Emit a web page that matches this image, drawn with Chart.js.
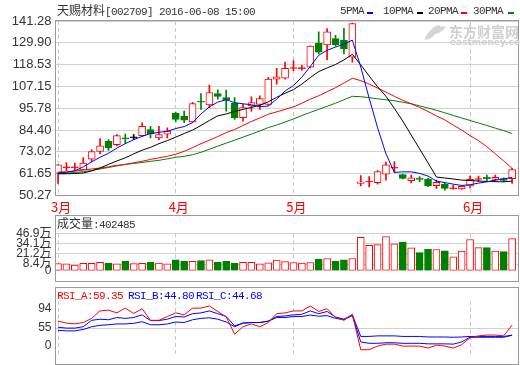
<!DOCTYPE html>
<html>
<head>
<meta charset="utf-8">
<script src="https://cdn.jsdelivr.net/npm/chart.js@4.4.1/dist/chart.umd.min.js"></script>
<style>
  body { margin: 0; background: #fff; }
  #wrap { position: relative; width: 520px; height: 365px; overflow: hidden; font-family: "Noto Sans CJK SC", sans-serif; color: #333; }
  canvas { position: absolute; left: 0; }
  .box { position: absolute; left: 55px; width: 464px; border: 1px solid #999; box-sizing: border-box; }
  .txt { position: absolute; white-space: nowrap; font-size: 12px; line-height: 12px; }
  .mono { font-family: "Liberation Mono", monospace; font-size: 11px; letter-spacing: -0.6px; }
  .dash { position: absolute; width: 6px; height: 2px; }
  .mark { position: absolute; color: #cfcfcf; font-weight: bold; white-space: nowrap; }
  .leaf { position: absolute; background: #d4d4d4; border-radius: 100% 0 100% 0; }
</style>
</head>
<body>
<div id="wrap">
  <canvas id="kline" width="520" height="215" style="top:0"></canvas>
  <canvas id="vol" width="520" height="67" style="top:215px"></canvas>
  <canvas id="rsi" width="520" height="78" style="top:287px"></canvas>

  <div class="box" style="top:20px;height:176px"></div>
  <div class="box" style="top:215px;height:67px"></div>
  <div class="box" style="top:287px;height:78px"></div>

  <div class="txt" style="left:57px;top:4px">天赐材料<span class="mono">[002709] 2016-06-08 15:00</span></div>

  <div class="txt mono" style="left:340px;top:5px">5PMA</div>
  <div class="dash" style="left:367px;top:12px;background:#0000ff"></div>
  <div class="txt mono" style="left:383px;top:5px">10PMA</div>
  <div class="dash" style="left:417px;top:12px;background:#000"></div>
  <div class="txt mono" style="left:428px;top:5px">20PMA</div>
  <div class="dash" style="left:461px;top:12px;background:#ff0000"></div>
  <div class="txt mono" style="left:473px;top:5px">30PMA</div>
  <div class="dash" style="left:508px;top:12px;background:#008000"></div>

  <div class="leaf" style="left:428px;top:23px;width:9px;height:19px;transform:rotate(25deg)"></div>
  <div class="leaf" style="left:436px;top:24px;width:7px;height:12px;transform:rotate(35deg)"></div>
  <div class="mark" style="left:449px;top:21px;font-size:14px">东方财富网</div>
  <div class="mark" style="left:450px;top:37px;font-size:9px;font-family:'DejaVu Sans',sans-serif">eastmoney.com</div>

  <div class="txt" style="left:57px;top:217px">成交量<span class="mono">:402485</span></div>

  <div class="txt mono" style="left:57px;top:290px;color:#ff0000">RSI_A:59.35</div>
  <div class="txt mono" style="left:128px;top:290px;color:#0000ff">RSI_B:44.80</div>
  <div class="txt mono" style="left:196px;top:290px;color:#0000ff">RSI_C:44.68</div>
</div>
<script>
// axis labels
const months = ['3月', '4月', '5月', '6月'];
const monthStart = [0, 14, 28, 49];
const priceTicks = [50.27, 61.65, 73.02, 84.40, 95.78, 107.15, 118.53, 129.90, 141.28];
const volTicks = [0, 84000, 212000, 341000, 469000];
const rsiTickText = ['94', '55', '0'];
const rsiTickAt = [83, 55, 29];

// daily candles
const open = [61.86, 64.7, 64.7, 63.6, 69.24, 73.24, 78.5, 76.77, 80.1, 80.29,
  81.5, 84.66, 80.29, 82.3, 93.09, 91.67, 88.6, 99.1, 97.46, 103.46,
  101.36, 98.36, 90.83, 96.93, 97.83, 97.83, 111.0, 111.52, 116.5, 116.4,
  117.16, 129.79, 128.8, 132.06, 131.16, 122.42, 56.6, 57.3, 57.0, 61.34,
  64.5, 61.2, 57.97, 58.85, 58.86, 55.4, 56.08, 53.8, 53.75, 55.3,
  58.6, 59.91, 58.7, 59.1, 59.0];
const high = [66.4, 67.45, 67.13, 70.08, 74.1, 79.93, 79.4, 82.03, 82.3, 82.03,
  88.19, 86.4, 86.4, 85.55, 93.78, 94.3, 98.9, 103.46, 107.9, 105.36,
  105.2, 101.36, 97.83, 101.67, 102.2, 111.9, 116.63, 119.79, 120.63, 118.2,
  128.3, 135.59, 137.33, 133.8, 137.5, 140.2, 60.7, 60.2, 63.3, 67.7,
  67.97, 61.5, 60.97, 60.2, 59.23, 58.33, 56.6, 55.7, 55.33, 60.44,
  60.44, 60.97, 60.97, 59.55, 64.5];
const low = [56.6, 63.23, 63.23, 63.6, 67.97, 72.0, 73.76, 76.24, 77.29, 79.4,
  81.14, 80.29, 79.4, 80.29, 88.72, 88.19, 88.4, 95.2, 96.09, 100.46,
  94.3, 89.9, 89.04, 94.3, 95.2, 97.3, 108.36, 111.0, 115.36, 115.7,
  116.8, 124.16, 121.16, 128.21, 124.16, 119.79, 55.33, 54.8, 56.23, 58.33,
  62.3, 58.86, 56.8, 57.44, 54.9, 53.85, 53.07, 53.6, 53.4, 54.2,
  57.44, 57.8, 57.8, 57.44, 56.6];
const close = [66.23, 64.9, 64.9, 67.13, 73.24, 76.24, 75.03, 81.5, 79.8, 80.29,
  86.4, 82.56, 82.03, 83.9, 89.9, 89.56, 98.2, 98.9, 103.99, 101.88,
  100.2, 90.83, 96.09, 98.72, 100.83, 111.0, 112.21, 116.63, 116.7, 116.7,
  128.21, 125.05, 135.59, 128.9, 126.79, 139.96, 57.44, 57.5, 62.71, 66.23,
  64.8, 59.23, 59.55, 58.7, 55.3, 57.12, 53.96, 53.95, 55.0, 58.7,
  58.75, 58.86, 59.75, 58.07, 63.8];

// volume (lots)
const volume = [89000, 86000, 73000, 93000, 93000, 107000, 96000, 86000, 117000, 89000,
  93000, 107000, 96000, 86000, 137000, 117000, 117000, 127000, 137000, 107000,
  117000, 96000, 107000, 107000, 86000, 100000, 134000, 114000, 104000, 96000,
  104000, 147000, 154000, 117000, 137000, 154000, 418000, 317000, 327000, 428000,
  337000, 360000, 286000, 228000, 269000, 266000, 249000, 175000, 246000, 391000,
  289000, 289000, 246000, 239000, 402485];

// moving averages as drawn
const ma5 = [62.0, 62.4, 63.2, 65.2, 67.8, 70.2, 72.3, 75.0, 77.3, 79.4,
  81.1, 82.6, 83.2, 83.8, 85.2, 86.2, 88.3, 92.8, 96.5, 99.0,
  100.2, 98.7, 98.1, 97.6, 96.6, 96.9, 100.5, 104.8, 107.6, 112.0,
  117.6, 123.4, 126.0, 127.7, 129.2, 131.3, 117.3, 101.0, 85.7, 72.0,
  62.3, 62.6, 62.6, 61.8, 60.4, 57.8, 57.0, 56.2, 55.5, 55.9,
  56.7, 57.4, 58.3, 58.9, 59.7];
const ma10 = [61.6, 61.6, 61.75, 62.0, 63.1, 64.6, 66.5, 68.3, 69.9, 72.0,
  73.9, 75.4, 77.3, 78.9, 80.7, 82.6, 84.4, 86.8, 89.4, 91.8,
  92.8, 94.1, 95.2, 96.2, 97.3, 99.1, 101.5, 103.6, 105.5, 108.4,
  111.8, 114.9, 116.8, 118.6, 121.0, 123.9, 118.4, 112.6, 107.0, 102.0,
  95.7, 89.1, 81.8, 74.6, 67.3, 59.9, 59.4, 58.9, 58.3, 58.1,
  57.8, 57.6, 57.5, 57.4, 57.8];
const ma20 = [62.5, 62.6, 63.0, 63.6, 64.1, 64.6, 65.2, 66.0, 66.5, 67.3,
  68.1, 69.1, 69.9, 70.7, 71.8, 73.3, 75.2, 77.3, 79.1, 81.0,
  83.1, 84.7, 86.8, 88.9, 90.7, 92.6, 93.9, 95.2, 96.5, 98.4,
  100.5, 102.3, 104.4, 106.5, 108.9, 111.4, 110.2, 108.4, 106.3, 104.2,
  102.0, 99.9, 98.1, 96.2, 94.1, 91.8, 89.7, 87.0, 84.4, 81.5,
  78.9, 75.7, 72.0, 68.3, 64.4];
const ma30 = [61.6, 61.9, 62.3, 62.7, 63.3, 64.1, 64.9, 65.7, 66.5, 67.0,
  67.5, 68.1, 68.6, 69.4, 70.2, 70.7, 71.5, 72.8, 74.4, 76.0,
  77.6, 79.1, 80.7, 82.3, 83.9, 85.7, 87.0, 88.6, 90.2, 92.0,
  93.6, 95.2, 96.8, 98.4, 100.2, 102.0, 101.8, 101.3, 100.7, 100.2,
  99.7, 98.9, 98.1, 97.0, 95.9, 94.7, 93.4, 92.0, 90.7, 89.4,
  88.1, 86.8, 85.4, 84.1, 82.6];

// RSI
const rsiA = [65.0, 62.2, 61.0, 63.0, 69.0, 79.7, 80.9, 76.9, 83.7, 76.1,
  82.9, 66.2, 66.2, 71.7, 76.9, 74.1, 83.7, 83.7, 86.9, 78.9,
  71.0, 46.2, 57.0, 61.0, 57.0, 63.0, 75.7, 76.9, 79.7, 79.7,
  86.9, 78.9, 82.9, 70.2, 66.2, 74.9, 23.9, 23.9, 29.1, 31.9,
  31.9, 29.1, 29.1, 29.1, 26.3, 30.3, 29.1, 26.3, 31.1, 41.0,
  43.8, 45.0, 45.0, 43.8, 59.35];
const rsiB = [56.2, 55.0, 55.0, 57.0, 66.2, 67.8, 67.0, 70.2, 69.0, 70.2,
  74.1, 65.8, 65.8, 67.8, 71.7, 71.0, 75.7, 76.9, 79.7, 75.7,
  71.7, 58.2, 62.2, 63.0, 63.0, 65.0, 71.7, 72.5, 74.1, 74.9,
  79.7, 75.7, 78.9, 71.0, 67.8, 74.1, 43.0, 43.0, 43.8, 43.8,
  43.8, 43.0, 43.0, 43.0, 42.2, 42.2, 42.2, 41.8, 42.2, 43.0,
  43.0, 43.0, 43.0, 43.0, 44.80];
const rsiC = [51.8, 51.0, 51.0, 53.0, 57.0, 59.0, 59.8, 61.0, 61.0, 61.8,
  64.2, 59.8, 59.8, 61.0, 63.8, 63.0, 67.0, 69.0, 69.8, 67.8,
  63.8, 57.0, 62.2, 63.0, 63.0, 65.0, 70.2, 70.2, 71.7, 71.7,
  73.7, 72.1, 72.9, 69.0, 67.0, 72.9, 35.1, 33.1, 33.1, 33.9,
  33.9, 33.1, 33.1, 33.1, 32.3, 32.3, 32.3, 31.9, 35.1, 41.8,
  41.8, 41.8, 41.8, 41.8, 44.68];

const UP = '#ff0000', DOWN = '#008000', FLAT = '#000000';
const idx = close.map((_, i) => i);
const tone = idx.map(i => close[i] > open[i] ? UP : close[i] < open[i] ? DOWN : FLAT);
const hollow = idx.map(i => close[i] - open[i] > 0.8 ? '#ffffff' : tone[i]);
const volFill = idx.map(i => close[i] >= open[i] ? '#ffffff' : DOWN);
const volLine = idx.map(i => close[i] >= open[i] ? UP : DOWN);
const pts = arr => idx.map(i => ({ x: i, y: arr[i] }));

const base = {
  responsive: false,
  animation: false,
  events: [],
  plugins: { legend: { display: false }, tooltip: { enabled: false } }
};

function xAxis(withLabels) {
  return {
    type: 'linear', min: -0.3, max: 54.7, offset: false,
    afterBuildTicks: s => { s.ticks = monthStart.map(v => ({ value: v })); },
    afterFit: s => { s.height = withLabels ? 19.5 : 0; },
    ticks: {
      display: withLabels, autoSkip: false, maxRotation: 0, padding: 4, labelOffset: 3,
      color: UP, font: { family: 'Noto Sans CJK SC', size: 13 },
      callback: (v, i) => months[i]
    },
    grid: { color: '#c8c8c8', drawTicks: false, offset: false },
    border: { display: false, dash: [4, 3] }
  };
}

function yAxis(min, max, build, label, gridColor, size) {
  return {
    min, max,
    afterBuildTicks: build,
    afterFit: s => { s.width = 55.5; },
    ticks: { color: '#333', padding: 4, autoSkip: false, font: { family: 'Liberation Sans, Noto Sans CJK SC', size }, callback: label },
    grid: { color: gridColor, drawTicks: false },
    border: { display: false }
  };
}

const line = (arr, color, order) => ({
  type: 'line', data: pts(arr), borderColor: color, borderWidth: 1,
  pointRadius: 0, tension: 0, order
});

new Chart(document.getElementById('kline'), {
  data: {
    datasets: [
      line(ma5, '#0000ff', 0),
      line(ma10, '#000000', 0),
      line(ma20, '#ff0000', 0),
      line(ma30, '#008000', 0),
      {
        type: 'bar', data: idx.map(i => ({ x: i, y: [open[i], close[i]] })),
        backgroundColor: hollow, borderColor: tone, borderWidth: 1, borderSkipped: false,
        barThickness: 7, minBarLength: 1, grouped: false, order: 1
      },
      {
        type: 'bar', data: idx.map(i => ({ x: i, y: [low[i], high[i]] })),
        backgroundColor: tone, barThickness: 1, grouped: false, order: 2
      }
    ]
  },
  options: {
    ...base,
    layout: { padding: { top: 21, right: 2, left: 0, bottom: 0 } },
    scales: {
      x: xAxis(true),
      y: yAxis(50.27, 141.28, s => { s.ticks = priceTicks.map(v => ({ value: v })); },
        v => v.toFixed(2), '#d0d0d0', 13)
    }
  }
});

new Chart(document.getElementById('vol'), {
  data: {
    datasets: [{
      type: 'bar', data: pts(volume),
      backgroundColor: volFill, borderColor: volLine, borderWidth: 1, borderSkipped: false,
      barThickness: 7, grouped: false
    }]
  },
  options: {
    ...base,
    layout: { padding: { top: 18.3, right: 2, left: 0, bottom: 2.5 } },
    scales: {
      x: xAxis(false),
      y: yAxis(0, 469000, s => { s.ticks = volTicks.map(v => ({ value: v })); },
        v => v === 0 ? '0' : (v / 10000).toFixed(1) + '万',
        c => c.tick && c.tick.value === 0 ? 'rgba(0,0,0,0)' : '#d0d0d0', 12)
    }
  }
});

new Chart(document.getElementById('rsi'), {
  data: {
    datasets: [
      line(rsiA, '#ff0000', 0),
      line(rsiB, '#0000ff', 1),
      line(rsiC, '#0000ff', 1)
    ]
  },
  options: {
    ...base,
    layout: { padding: { top: 14, right: 2, left: 0, bottom: 1 } },
    scales: {
      x: xAxis(false),
      y: yAxis(18, 94, s => { s.ticks = rsiTickAt.map(v => ({ value: v })); },
        (v, i) => rsiTickText[i],
        c => c.tick && c.tick.value === 55 ? '#d0d0d0' : 'rgba(0,0,0,0)', 12)
    }
  }
});
</script>
</body>
</html>
